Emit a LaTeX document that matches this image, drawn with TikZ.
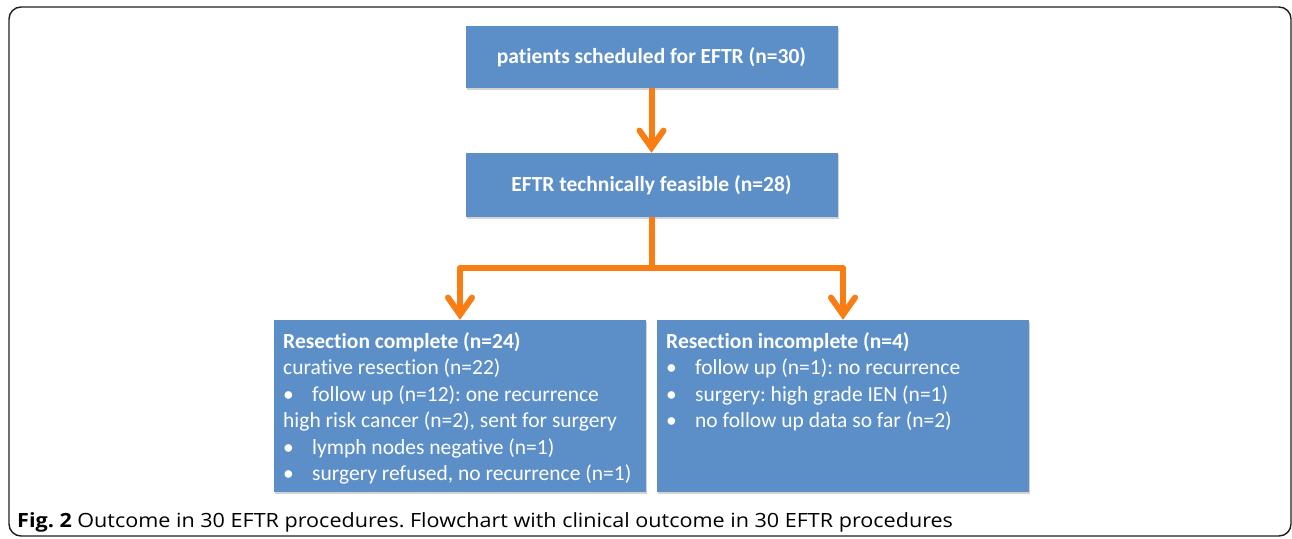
\documentclass[tikz,border=0pt]{standalone}
\usepackage{fontspec}
\setmainfont{Carlito}[Ligatures=NoCommon]
\newfontfamily\capfont{Open Sans}[FakeStretch=1.1]
\usetikzlibrary{arrows.meta,shadows}
\definecolor{boxblue}{RGB}{92,143,200}
\definecolor{arrorange}{RGB}{250,125,20}
\definecolor{framecol}{RGB}{30,30,30}
\tikzset{
  flowbox/.style={rectangle, fill=boxblue, draw=none, minimum width=372pt, inner sep=0pt,
    drop shadow={shadow xshift=1.2pt, shadow yshift=-1.5pt, opacity=0.35, fill=gray}},
  headtext/.style={text=white, font=\fontsize{21.5}{25}\selectfont\bfseries},
  bodytext/.style={text=white, inner sep=0pt, anchor=north west, align=left,
    font=\fontsize{21.5}{26.5}\selectfont},
  orline/.style={draw=arrorange, line width=6pt, line join=round},
  orarrow/.style={orline, -{Straight Barb[length=17pt,width=24pt,line join=miter,line cap=round]}},
}
\newcommand{\bul}{\makebox[29pt][l]{•}}
\begin{document}
\frenchspacing
\begin{tikzpicture}[x=1pt,y=-1pt]
\useasboundingbox (0,0) rectangle (1292,538);
\draw[framecol, line width=1.4pt, rounded corners=12pt] (9,7) rectangle (1291,536);

\node[flowbox, minimum height=62pt, headtext] (top) at (651.5,57) {patients scheduled for EFTR (n=30)};
\node[flowbox, minimum height=64pt, headtext] (mid) at (651.5,185) {EFTR technically feasible (n=28)};
\node[flowbox, minimum height=172pt] (left) at (460,406) {};
\node[flowbox, minimum height=172pt] (right) at (843,406) {};

\node[bodytext] (lefttext) at (283,332) {\textbf{Resection complete (n=24)}\\
curative resection (n=22)\\
\bul follow up (n=12): one recurrence\\
high risk cancer (n=2), sent for surgery\\
\bul lymph nodes negative (n=1)\\
\bul surgery refused, no recurrence (n=1)};

\node[bodytext] (righttext) at (666,332) {\textbf{Resection incomplete (n=4)}\\
\bul follow up (n=1): no recurrence\\
\bul surgery: high grade IEN (n=1)\\
\bul no follow up data so far (n=2)};

\coordinate (j) at (651.5,268);
\draw[orarrow] (top.south) -- (mid.north);
\draw[orline] (mid.south) -- (j);
\draw[orarrow] (j) -| (left.north);
\draw[orarrow] (j) -| (right.north);

\node[anchor=base west, inner sep=0pt, font=\capfont\fontsize{19.6}{23}\selectfont] (caption) at (17,527)
  {\textbf{Fig. 2} Outcome in 30 EFTR procedures. Flowchart with clinical outcome in 30 EFTR procedures};
\end{tikzpicture}
\end{document}
